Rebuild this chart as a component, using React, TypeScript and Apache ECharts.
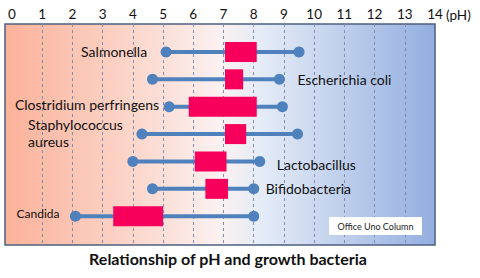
import React, { useEffect, useRef } from "react";
import * as echarts from "echarts";

const categories = [
  "Salmonella",
  "Escherichia coli",
  "Clostridium perfringens",
  "Staphylococcus\naureus",
  "Lactobacillus",
  "Bifidobacteria",
  "Candida",
];
const minPH = [5.1, 4.65, 5.2, 4.3, 4.0, 4.65, 2.1];
const maxPH = [9.5, 8.85, 8.95, 9.45, 8.2, 8.0, 8.0];
const optLow = [7.05, 7.05, 5.85, 7.05, 6.05, 6.4, 3.35];
const optHigh = [8.1, 7.65, 8.1, 7.75, 7.1, 7.15, 5.0];
const phTicks = [0, 1, 2, 3, 4, 5, 6, 7, 8, 9, 10, 11, 12, 13, 14];

// label layout (not data)
const LABEL_SIDE = ["left", "right", "left", "left", "right", "right", "left"];
const LABEL_GAP = [19, 18, 10, 19, 17, 12, 16];
const LABEL_DY = [0, 0, -2, -1, 3, 0, -3];

const FONT = "Lato, 'Noto Sans', sans-serif";

export default function App() {
  const ref = useRef<HTMLDivElement>(null);
  useEffect(() => {
    if (!ref.current) return;
    const chart = echarts.init(ref.current, null, { renderer: "svg" });
    const data = categories.map((c, i) => [i, minPH[i], maxPH[i], optLow[i], optHigh[i]]);
    chart.setOption({
      animation: false,
      grid: { left: 12, right: 45, top: 24, bottom: 33, containLabel: false },
      xAxis: {
        type: "value",
        position: "top",
        min: 0,
        max: 14,
        interval: 1,
        axisLine: { show: false },
        axisTick: { show: false },
        axisLabel: {
          show: true,
          margin: 3,
          fontSize: 13.5,
          color: "#111",
          fontFamily: FONT,
          formatter: (v: number) => (phTicks.includes(v) ? String(v) : ""),
        },
        splitLine: {
          show: true,
          showMinLine: false,
          showMaxLine: false,
          lineStyle: { color: "#7f8fb0", type: [3, 3], width: 1 },
        },
      },
      yAxis: { type: "value", inverse: true, min: -1.02, max: 7.05, show: false },
      graphic: [
        {
          type: "rect",
          z: -10,
          silent: true,
          shape: { x: 5, y: 24, width: 430, height: 221 },
          style: {
            fill: new echarts.graphic.LinearGradient(0, 0, 1, 0, [
              { offset: 0, color: "#fbb29a" },
              { offset: 0.25, color: "#fcd0c2" },
              { offset: 0.5, color: "#fbf1f1" },
              { offset: 0.6, color: "#e4ebf7" },
              { offset: 1, color: "#93aedf" },
            ]),
            stroke: "#4d5f80",
            lineWidth: 1.5,
          },
        },
        {
          type: "text",
          x: 446,
          y: 15,
          style: { text: "(pH)", fontSize: 13.5, fontFamily: FONT, fill: "#111", verticalAlign: "middle" },
        },
        {
          type: "rect",
          z: 10,
          shape: { x: 329, y: 217, width: 93, height: 18 },
          style: { fill: "#ffffff" },
        },
        {
          type: "text",
          z: 11,
          x: 375.5,
          y: 226,
          style: {
            text: "Office Uno Column",
            fontSize: 9,
            fontFamily: FONT,
            fill: "#222",
            align: "center",
            verticalAlign: "middle",
          },
        },
        {
          type: "text",
          x: 228,
          y: 258,
          style: {
            text: "Relationship of pH and growth bacteria",
            fontSize: 16,
            fontWeight: "bold",
            fontFamily: FONT,
            fill: "#111",
            align: "center",
            verticalAlign: "middle",
          },
        },
      ],
      series: [
        {
          type: "custom",
          encode: { x: [1, 2, 3, 4], y: 0 },
          data,
          renderItem: (params: any, api: any) => {
            const i = api.value(0);
            const p1 = api.coord([api.value(1), i]);
            const p2 = api.coord([api.value(2), i]);
            const b1 = api.coord([api.value(3), i]);
            const b2 = api.coord([api.value(4), i]);
            const side = LABEL_SIDE[i];
            const name = categories[i];
            const small = name === "Candida";
            const txt = name
              .split("\n")
              .map((l) => "{a|" + l + "}")
              .join("\n");
            const lx = side === "left" ? p1[0] - LABEL_GAP[i] : p2[0] + LABEL_GAP[i];
            const ly = p1[1] + LABEL_DY[i];
            return {
              type: "group",
              children: [
                {
                  type: "line",
                  shape: { x1: p1[0], y1: p1[1], x2: p2[0], y2: p2[1] },
                  style: { stroke: "#4f81bd", lineWidth: 4 },
                },
                { type: "circle", shape: { cx: p1[0], cy: p1[1], r: 5.5 }, style: { fill: "#4f81bd" } },
                { type: "circle", shape: { cx: p2[0], cy: p2[1], r: 5.5 }, style: { fill: "#4f81bd" } },
                {
                  type: "rect",
                  shape: { x: b1[0], y: b1[1] - 10, width: b2[0] - b1[0], height: 20 },
                  style: { fill: "#f7005c" },
                },
                {
                  type: "text",
                  x: lx,
                  y: ly,
                  style: {
                    text: txt,
                    align: side === "left" ? "right" : "left",
                    verticalAlign: "middle",
                    fill: "#111",
                    fontSize: small ? 12 : 14,
                    fontFamily: FONT,
                    rich: {
                      a: {
                        align: "left",
                        fontSize: small ? 12 : 14,
                        fontFamily: FONT,
                        fill: "#111",
                        lineHeight: 17,
                      },
                    },
                  },
                },
              ],
            };
          },
        },
      ],
    });
    return () => chart.dispose();
  }, []);
  return <div ref={ref} style={{ width: 480, height: 278, position: "absolute", left: 0, top: 0 }} />;
}
